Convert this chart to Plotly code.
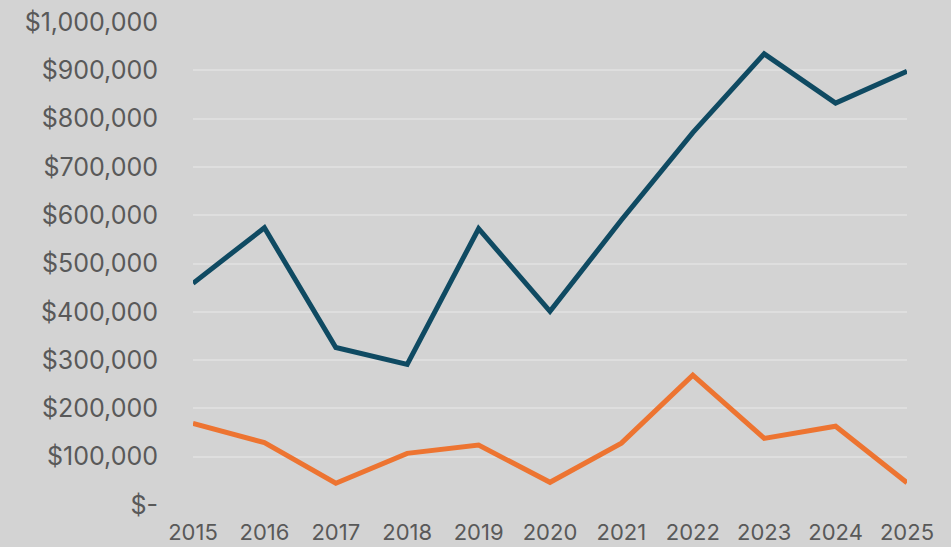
import plotly.graph_objects as go

years = [2015, 2016, 2017, 2018, 2019, 2020, 2021, 2022, 2023, 2024, 2025]
series_blue = [459000, 574000, 326000, 291000, 572000, 401000, 590000, 771000, 934000, 832000, 898000]
series_orange = [169000, 129000, 45000, 107000, 124000, 47000, 128000, 269000, 138000, 163000, 46000]
y_tick_vals = [0, 100000, 200000, 300000, 400000, 500000, 600000, 700000, 800000, 900000, 1000000]
y_tick_text = ["$-", "$100,000", "$200,000", "$300,000", "$400,000", "$500,000",
               "$600,000", "$700,000", "$800,000", "$900,000", "$1,000,000"]

fig = go.Figure()
fig.add_trace(go.Scatter(x=years, y=series_blue, mode="lines",
                         line=dict(color="#0f4a62", width=5), cliponaxis=False,
                         showlegend=False))
fig.add_trace(go.Scatter(x=years, y=series_orange, mode="lines",
                         line=dict(color="#ed7431", width=5), cliponaxis=False,
                         showlegend=False))

fig.update_layout(
    width=951, height=547,
    margin=dict(l=193, r=44, t=21.5, b=42, pad=0),
    paper_bgcolor="#d3d3d3", plot_bgcolor="#d3d3d3",
    font=dict(family="Inter", size=20, color="#595959"),
    xaxis=dict(range=[2015, 2025], tickvals=years, showgrid=False, zeroline=False,
               showline=False, ticks="outside", ticklen=8, tickcolor="rgba(0,0,0,0)",
               tickfont=dict(size=22), automargin=False),
    yaxis=dict(range=[0, 1000000], tickvals=y_tick_vals, ticktext=y_tick_text,
               showgrid=True, gridcolor="#dedede", gridwidth=1.5, zeroline=False,
               showline=False, ticks="outside", ticklen=29, tickcolor="rgba(0,0,0,0)",
               tickfont=dict(size=25), automargin=False),
)

fig.write_html(
    "out.html",
    config={"displayModeBar": False},
    post_script="document.body.style.margin='0';document.body.style.overflow='hidden';"
                "document.body.style.background='#d3d3d3';",
)
